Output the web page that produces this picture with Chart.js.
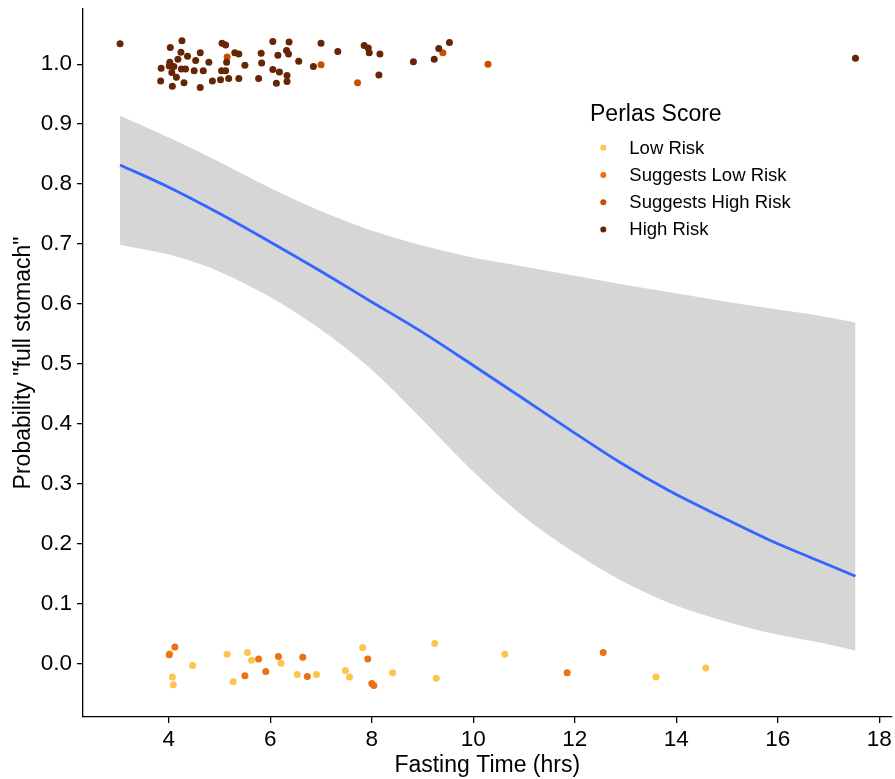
<!DOCTYPE html>
<html><head><meta charset="utf-8">
<script src="https://cdn.jsdelivr.net/npm/chart.js@4"></script>
<style>html,body{margin:0;padding:0;background:#fff}canvas{display:block}</style>
</head><body>
<canvas id="c" width="895" height="779"></canvas>
<script>
// ---------- data ----------
const categories = ['Low Risk', 'Suggests Low Risk', 'Suggests High Risk', 'High Risk'];
const legendTitle = 'Perlas Score';
const xTitle = 'Fasting Time (hrs)';
const yTitle = 'Probability "full stomach"';
const xTicks = [4, 6, 8, 10, 12, 14, 16, 18];
const yTicks = [0, 0.1, 0.2, 0.3, 0.4, 0.5, 0.6, 0.7, 0.8, 0.9, 1.0];

const lowRiskX = [4.02,4.07,4.09,4.47,5.15,5.27,5.55,5.63,6.21,6.53,6.91,7.48,7.56,7.82,8.41,9.24,9.27,10.62,13.60,14.58];
const lowRiskY = [0.017,-0.022,-0.035,-0.003,0.016,-0.030,0.019,0.006,0.001,-0.018,-0.018,-0.011,-0.022,0.027,-0.015,0.034,-0.024,0.016,-0.022,-0.007];

const suggestsLowX = [4.12,4.01,5.50,5.77,5.91,6.16,6.64,6.73,7.92,8.00,8.04,11.85,12.56];
const suggestsLowY = [0.028,0.015,-0.020,0.008,-0.013,0.012,0.011,-0.021,0.008,-0.033,-0.036,-0.015,0.019];

const suggestsHighX = [5.15,7.00,7.72,9.40,10.29];
const suggestsHighY = [1.012,0.999,0.969,1.019,1.000];

const highRiskX = [3.04,4.03,4.26,4.24,4.37,4.62,4.02,4.18,4.01,4.10,3.85,4.06,4.25,4.33,4.15,3.84,4.07,4.30,4.53,4.50,4.68,4.79,4.62,4.86,5.05,5.12,5.30,5.38,5.14,5.50,5.04,5.12,5.02,5.18,5.38,5.77,5.82,5.83,6.05,6.37,6.15,6.32,6.36,6.56,6.05,6.18,6.33,6.12,6.33,7.00,7.33,6.85,7.85,7.93,7.95,8.16,8.14,8.82,9.23,9.32,9.53,17.53];
const highRiskY = [1.034,1.028,1.039,1.020,1.013,1.019,1.003,1.008,0.997,0.996,0.993,0.986,0.992,0.992,0.978,0.972,0.963,0.969,1.006,0.989,0.989,1.003,0.961,0.972,1.035,1.032,1.019,1.017,1.003,0.998,0.989,0.989,0.974,0.976,0.976,0.976,1.018,1.002,1.038,1.037,1.015,1.023,1.017,1.005,0.991,0.987,0.981,0.968,0.971,1.035,1.021,0.996,1.031,1.027,1.019,1.017,0.982,1.004,1.008,1.026,1.036,1.010];

const fitX     = [3.04,4.02,5.00,5.99,6.97,7.95,8.94,9.92,10.90,11.89,12.87,13.85,14.84,15.82,16.80,17.53];
const fitY     = [0.832,0.794,0.751,0.704,0.656,0.606,0.556,0.502,0.447,0.391,0.337,0.289,0.247,0.207,0.172,0.146];
const fitUpper = [0.914,0.877,0.837,0.794,0.756,0.724,0.699,0.679,0.664,0.649,0.634,0.620,0.606,0.593,0.581,0.569];
const fitLower = [0.699,0.682,0.654,0.612,0.559,0.494,0.412,0.327,0.252,0.191,0.141,0.102,0.074,0.052,0.036,0.022];

// ---------- styles ----------
const categoryColors = ['#FEC44F', '#EC7014', '#CC4C02', '#662506'];
const FONT = '"Liberation Sans", Arial, Helvetica, sans-serif';

const pts = (xs, ys) => xs.map((x, i) => ({x, y: ys[i]}));

const pointSets = [
  [lowRiskX, lowRiskY],
  [suggestsLowX, suggestsLowY],
  [suggestsHighX, suggestsHighY],
  [highRiskX, highRiskY]
];

const datasets = [];
pointSets.forEach((p, i) => {
  datasets.push({
    type: 'scatter',
    label: categories[i],
    data: pts(p[0], p[1]),
    backgroundColor: categoryColors[i],
    borderWidth: 0,
    pointRadius: 3.5,
    pointHoverRadius: 3.5,
    order: 4 - i
  });
});
datasets.push({
  type: 'line', label: 'upper', data: pts(fitX, fitUpper),
  borderWidth: 0, borderColor: 'rgba(0,0,0,0)', pointRadius: 0,
  backgroundColor: '#D6D6D6', fill: '+1', cubicInterpolationMode: 'monotone', order: 20
});
datasets.push({
  type: 'line', label: 'lower', data: pts(fitX, fitLower),
  borderWidth: 0, borderColor: 'rgba(0,0,0,0)', pointRadius: 0,
  fill: false, cubicInterpolationMode: 'monotone', order: 21
});
datasets.push({
  type: 'line', label: 'fit', data: pts(fitX, fitY),
  borderWidth: 2.8, borderColor: '#3366FF', pointRadius: 0,
  fill: false, cubicInterpolationMode: 'monotone', order: 10
});

const legendPlugin = {
  id: 'insideLegend',
  afterDraw(chart) {
    const ctx = chart.ctx;
    ctx.save();
    ctx.textAlign = 'left';
    ctx.textBaseline = 'alphabetic';
    ctx.fillStyle = '#000';
    ctx.font = '23px ' + FONT;
    ctx.fillText(legendTitle, 590, 121);
    ctx.font = '18.5px ' + FONT;
    categories.forEach((c, i) => {
      ctx.fillStyle = categoryColors[i];
      ctx.beginPath();
      ctx.arc(603.3, 147.7 + i * 27.3, 3, 0, Math.PI * 2);
      ctx.fill();
      ctx.fillStyle = '#000';
      ctx.fillText(c, 629.3, 153.7 + i * 27.2);
    });
    ctx.restore();
  }
};

new Chart(document.getElementById('c'), {
  type: 'scatter',
  data: { datasets },
  options: {
    responsive: false,
    animation: false,
    devicePixelRatio: 1,
    layout: { padding: { left: 0, top: 9, right: 2, bottom: 0 } },
    plugins: { legend: { display: false }, tooltip: { enabled: false } },
    scales: {
      x: {
        type: 'linear', min: 2.31, max: 18.24,
        afterBuildTicks: s => { s.ticks = xTicks.map(v => ({value: v})); },
        afterFit: s => { s.height = 62; s.paddingLeft = 0; s.paddingRight = 0; },
        grid: { drawOnChartArea: false, drawTicks: true, tickLength: 6, color: '#000', lineWidth: 1.3 },
        border: { display: true, color: '#000', width: 1.3 },
        ticks: { autoSkip: false, maxRotation: 0, padding: 3, color: '#000',
                 font: { family: FONT, size: 22.5 }, callback: v => String(v) },
        title: { display: true, text: xTitle, color: '#000',
                 font: { family: FONT, size: 23, lineHeight: 1.2 }, padding: { top: 0, bottom: 0 } }
      },
      y: {
        type: 'linear', min: -0.0887, max: 1.092,
        afterBuildTicks: s => { s.ticks = yTicks.map(v => ({value: v})); },
        afterFit: s => { s.width = 83; s.paddingTop = 0; s.paddingBottom = 0; },
        grid: { drawOnChartArea: false, drawTicks: true, tickLength: 6, color: '#000', lineWidth: 1.3 },
        border: { display: true, color: '#000', width: 1.3 },
        ticks: { autoSkip: false, padding: 5, color: '#000',
                 font: { family: FONT, size: 22.5 }, callback: v => Number(v).toFixed(1) },
        title: { display: true, text: yTitle, color: '#000',
                 font: { family: FONT, size: 23, lineHeight: 1.2 }, padding: { top: 10, bottom: 0 } }
      }
    }
  },
  plugins: [legendPlugin]
});
</script>
</body></html>
